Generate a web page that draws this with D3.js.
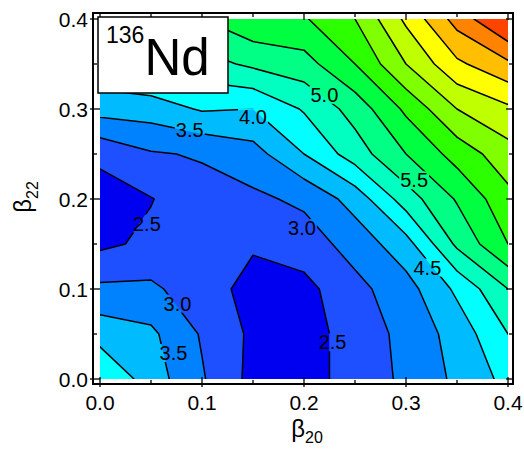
<!DOCTYPE html>
<html>
<head>
<meta charset="utf-8">
<script src="https://cdn.jsdelivr.net/npm/d3@7"></script>
<style>
  body { margin: 0; background: #fff; }
  text { font-family: "Liberation Sans", Arial, sans-serif; fill: #000; }
</style>
</head>
<body>
<div id="chart"></div>
<script>
// grid of the surface, beta20 = 0 .. 0.4 across, beta22 = 0 .. 0.4 (first row = 0)
var beta20 = [0, 0.05, 0.1, 0.15, 0.2, 0.25, 0.3, 0.35, 0.4];
var beta22 = [0, 0.05, 0.1, 0.15, 0.2, 0.25, 0.3, 0.35, 0.4];
var energy = [
  [4.5, 3.75, 3.05, 2.35, 2.3, 2.7, 3.1, 3.6, 4.15],
  [3.8, 3.6, 2.95, 2.4, 2.3, 2.7, 3.15, 3.7, 4.5],
  [3.1, 3.1, 2.7, 2.35, 2.35, 2.85, 3.3, 4.1, 5.0],
  [2.4, 2.6, 2.75, 2.55, 2.75, 3.2, 3.8, 5.1, 6.0],
  [2.3, 2.48, 2.8, 2.9, 3.1, 3.7, 4.75, 5.55, 6.35],
  [2.6, 2.95, 3.05, 3.3, 4.0, 4.75, 5.5, 6.2, 6.8],
  [3.7, 3.75, 4.05, 4.0, 4.55, 5.2, 6.1, 7.0, 7.4],
  [4.4, 4.6, 4.8, 5.1, 5.3, 6.0, 7.0, 7.9, 8.4],
  [5.0, 5.2, 5.5, 5.9, 5.95, 6.5, 7.6, 8.7, 9.6]
];
var levels = [2.5, 3.0, 3.5, 4.0, 4.5, 5.0, 5.5, 6.0, 6.5, 7.0, 7.5, 8.0, 8.5, 9.0];
var bandColors = ["#0000f0", "#1e50ff", "#0082ff", "#00bcff", "#00ffff", "#00ffc0",
  "#00ff84", "#00ff40", "#2cff00", "#80ff00", "#c0ff00", "#ffff00", "#ffbe00", "#ff8200", "#ff4400"];
var xTicks = [0.0, 0.1, 0.2, 0.3, 0.4];
var yTicks = [0.0, 0.1, 0.2, 0.3, 0.4];
var lineLabels = [
  { text: "3.5", x: 0.088, y: 0.277 },
  { text: "4.0", x: 0.150, y: 0.291 },
  { text: "5.0", x: 0.220, y: 0.316 },
  { text: "5.5", x: 0.308, y: 0.221 },
  { text: "4.5", x: 0.321, y: 0.124 },
  { text: "3.0", x: 0.198, y: 0.168 },
  { text: "2.5", x: 0.046, y: 0.173 },
  { text: "3.0", x: 0.076, y: 0.084 },
  { text: "3.5", x: 0.072, y: 0.029 },
  { text: "2.5", x: 0.228, y: 0.041 }
];

var width = 524, height = 451;
var x = d3.scaleLinear().domain([0, 0.4]).range([100, 508]);
var y = d3.scaleLinear().domain([0, 0.4]).range([379, 19]);
var frame = { left: 93, top: 13, right: 513, bottom: 384 };

var svg = d3.select("#chart").append("svg")
    .attr("width", width)
    .attr("height", height);

var defs = svg.append("defs");
defs.append("clipPath").attr("id", "plotClip")
  .append("rect")
    .attr("x", x(0)).attr("y", y(0.4))
    .attr("width", x(0.4) - x(0)).attr("height", y(0) - y(0.4));

// flatten grid for d3.contours
var nx = beta20.length, ny = beta22.length;
var values = [];
energy.forEach(function(row) { row.forEach(function(v) { values.push(v); }); });
var step = beta20[1] - beta20[0];

var project = d3.geoTransform({
  point: function(gx, gy) {
    this.stream.point(x(beta20[0] + (gx - 0.5) * step), y(beta22[0] + (gy - 0.5) * step));
  }
});
var path = d3.geoPath(project);
var contours = d3.contours().size([nx, ny]).thresholds(levels)(values);

var plot = svg.append("g").attr("clip-path", "url(#plotClip)");
plot.append("rect")
    .attr("x", x(0)).attr("y", y(0.4))
    .attr("width", x(0.4) - x(0)).attr("height", y(0) - y(0.4))
    .attr("fill", bandColors[0]);
plot.selectAll("path.band")
  .data(contours)
  .join("path")
    .attr("class", "band")
    .attr("d", path)
    .attr("fill", function(d, i) { return bandColors[i + 1]; })
    .attr("stroke", function(d, i) { return bandColors[i + 1]; })
    .attr("stroke-width", 0.5);

// mask to cut the lines under their labels
var mask = defs.append("mask").attr("id", "labelMask");
mask.append("rect").attr("width", width).attr("height", height).attr("fill", "#fff");

var lines = plot.append("g").attr("mask", "url(#labelMask)");
lines.selectAll("path")
  .data(contours)
  .join("path")
    .attr("d", path)
    .attr("fill", "none")
    .attr("stroke", "#000")
    .attr("stroke-width", 1.5)
    .attr("stroke-linejoin", "round");

var labels = svg.append("g");
labels.selectAll("text")
  .data(lineLabels)
  .join("text")
    .attr("x", function(d) { return x(d.x); })
    .attr("y", function(d) { return y(d.y); })
    .attr("dy", "0.36em")
    .attr("text-anchor", "middle")
    .style("font-size", "20px")
    .text(function(d) { return d.text; })
    .each(function() {
      var b = this.getBBox();
      mask.append("rect")
        .attr("x", b.x - 1).attr("y", b.y + 2)
        .attr("width", b.width + 2).attr("height", b.height - 4)
        .attr("fill", "#000");
    });

// frame and ticks
svg.append("rect")
    .attr("x", frame.left).attr("y", frame.top)
    .attr("width", frame.right - frame.left).attr("height", frame.bottom - frame.top)
    .attr("fill", "none").attr("stroke", "#000").attr("stroke-width", 2);

var ticks = svg.append("g").attr("stroke", "#000").attr("stroke-width", 1.3);
d3.range(0, 0.4001, 0.05).forEach(function(v, i) {
  var major = i % 2 === 0;
  var len = major ? 7 : 4;
  var out = major ? 3 : 0;
  ticks.append("line").attr("x1", x(v)).attr("x2", x(v))
    .attr("y1", frame.bottom + out).attr("y2", frame.bottom - len);
  ticks.append("line").attr("x1", x(v)).attr("x2", x(v))
    .attr("y1", frame.top).attr("y2", frame.top + len);
  ticks.append("line").attr("y1", y(v)).attr("y2", y(v))
    .attr("x1", frame.left - out).attr("x2", frame.left + len);
  ticks.append("line").attr("y1", y(v)).attr("y2", y(v))
    .attr("x1", frame.right).attr("x2", frame.right - len);
});

svg.append("g").selectAll("text")
  .data(xTicks)
  .join("text")
    .attr("x", function(d) { return x(d); })
    .attr("y", 410)
    .attr("text-anchor", "middle")
    .style("font-size", "21px")
    .text(function(d) { return d.toFixed(1); });

svg.append("g").selectAll("text")
  .data(yTicks)
  .join("text")
    .attr("x", 88)
    .attr("y", function(d) { return y(d); })
    .attr("dy", "0.36em")
    .attr("text-anchor", "end")
    .style("font-size", "21px")
    .text(function(d) { return d.toFixed(1); });

// axis titles
var xt = svg.append("text")
    .attr("x", 307).attr("y", 437)
    .attr("text-anchor", "middle")
    .style("font-size", "24px");
xt.append("tspan").text("β");
xt.append("tspan").attr("dy", 6).style("font-size", "16px").text("20");

var yt = svg.append("text")
    .attr("transform", "translate(31,197) rotate(-90)")
    .attr("text-anchor", "middle")
    .style("font-size", "24px");
yt.append("tspan").text("β");
yt.append("tspan").attr("dy", 7).style("font-size", "16px").text("22");

// nucleus box
svg.append("rect")
    .attr("x", 98).attr("y", 17)
    .attr("width", 130).attr("height", 76)
    .attr("fill", "#fff").attr("stroke", "#000").attr("stroke-width", 1.5);
var nt = svg.append("text").attr("x", 106).attr("y", 75);
nt.append("tspan").attr("dy", -32).style("font-size", "23px").text("136");
nt.append("tspan").attr("dy", 32).style("font-size", "51px").text("Nd");
</script>
</body>
</html>
